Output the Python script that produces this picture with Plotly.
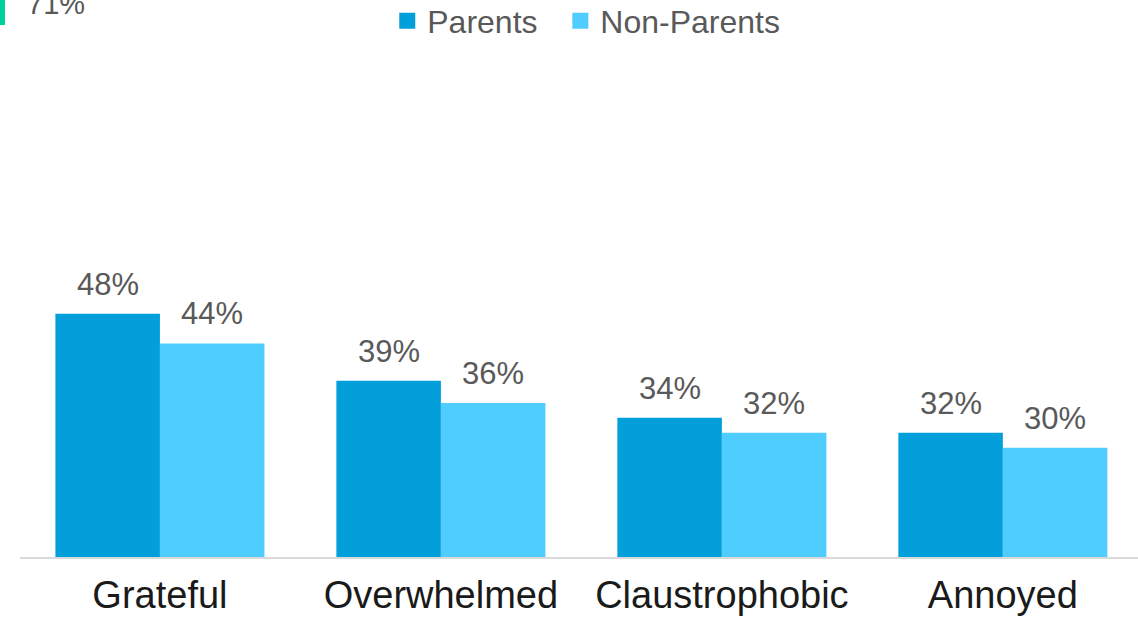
import plotly.graph_objects as go

categories = ["Grateful", "Overwhelmed", "Claustrophobic", "Annoyed"]
parents = [48, 39, 34, 32]
non_parents = [44, 36, 32, 30]
series_names = ["Parents", "Non-Parents"]
cut_label = "71%"

C_PAR = "#039FDB"
C_NON = "#4FCDFF"
FONT = "Liberation Sans"
GRAY = "#595959"

fig = go.Figure()
fig.add_trace(go.Bar(x=categories, y=parents, name=series_names[0], marker_color=C_PAR,
                     marker_line_width=0, showlegend=False))
fig.add_trace(go.Bar(x=categories, y=non_parents, name=series_names[1], marker_color=C_NON,
                     marker_line_width=0, showlegend=False))
# legend entries with larger square symbols
pads = ["\u00a0\u00a0", ""]
for nm, col, pad in zip(series_names, (C_PAR, C_NON), pads):
    fig.add_trace(go.Scatter(x=[None], y=[None], mode="markers", name=nm + pad,
                             marker=dict(symbol="square", size=16, color=col)))

half = 52
for vals, sh in ((parents, -half), (non_parents, half)):
    for c, v in zip(categories, vals):
        fig.add_annotation(x=c, y=v, text=f"{v}%", showarrow=False, xshift=sh, yshift=10,
                           yanchor="bottom", font=dict(family=FONT, size=31, color=GRAY))

fig.add_annotation(xref="paper", yref="paper", x=(25 - 20) / 1118, y=1 + 56 / 497,
                   xanchor="left", yanchor="middle", text=cut_label, showarrow=False,
                   font=dict(family=FONT, size=29, color=GRAY))
fig.add_shape(type="rect", xref="paper", yref="paper", x0=-20 / 1118, x1=-15 / 1118,
              y0=1 + 35 / 497, y1=1 + 62 / 497, fillcolor="#00D19A", line_width=0)

fig.update_layout(
    width=1138, height=617,
    margin=dict(l=20, r=0, t=60, b=60, autoexpand=False),
    paper_bgcolor="white", plot_bgcolor="white",
    barmode="group", bargap=0.256, bargroupgap=0,
    showlegend=True,
    legend=dict(orientation="h", x=0.5065, xanchor="center", yref="container",
                y=1 - 21 / 617, yanchor="middle",
                font=dict(family=FONT, size=32, color=GRAY), itemwidth=30,
                traceorder="normal"),
    xaxis=dict(range=[-0.498, 3.481], showline=True, linecolor="#D9D9D9", linewidth=2,
               ticks="", showgrid=False, ticklabelstandoff=3, automargin=False,
               tickfont=dict(family=FONT, size=38, color="#1A1A1A")),
    yaxis=dict(range=[15.3, 82.1], visible=False, showgrid=False, zeroline=False,
               automargin=False),
)

fig.write_html("out.html", config={"displayModeBar": False},
               post_script="document.body.style.margin='0';")
